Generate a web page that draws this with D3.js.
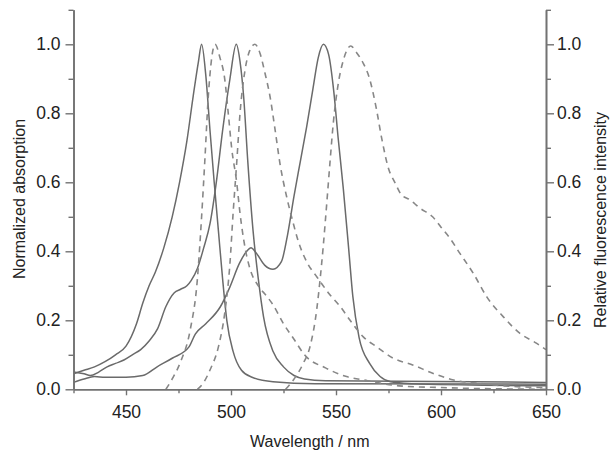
<!DOCTYPE html>
<html>
<head>
<meta charset="utf-8">
<script src="https://cdn.jsdelivr.net/npm/d3@7"></script>
<style>
  body { margin: 0; background: #fff; }
  svg text { font-family: "Liberation Sans", Arial, sans-serif; fill: #222; }
</style>
</head>
<body>
<svg id="chart" width="616" height="453"></svg>
<script>
// absorption spectra (solid), [wavelength nm, normalized value]
const absBlue = [[425,0.045],[430,0.055],[435,0.065],[440,0.08],[445,0.1],[450,0.125],[455,0.19],[458,0.25],[461,0.3],[464,0.34],[468,0.41],[472,0.5],[475.5,0.6],[479,0.72],[482,0.85],[484.5,0.95],[486,1.0],[488,0.91],[490,0.75],[492,0.6],[494,0.46],[496,0.32],[498,0.2],[501,0.11],[505,0.055],[510,0.035],[520,0.022],[540,0.016],[650,0.015]]
const absGreen = [[425,0.05],[430,0.045],[433,0.04],[437,0.05],[441,0.065],[445,0.075],[449,0.085],[453,0.1],[457,0.115],[461,0.14],[465,0.175],[469,0.24],[473,0.28],[476,0.29],[479,0.3],[481,0.315],[484,0.35],[487,0.41],[490,0.48],[493,0.6],[496,0.75],[499.5,0.9],[502.5,1.0],[504.3,0.95],[506,0.85],[508,0.66],[510.5,0.46],[513,0.32],[515.5,0.21],[520,0.11],[525,0.065],[530,0.04],[535,0.03],[545,0.025],[650,0.02]]
const absRed = [[425,0.02],[430,0.03],[435,0.037],[440,0.035],[450,0.035],[458,0.04],[465,0.066],[472,0.09],[480,0.123],[483,0.16],[488,0.19],[495,0.24],[499.5,0.297],[504,0.365],[507.5,0.4],[509.5,0.41],[512,0.395],[516,0.36],[520,0.348],[524,0.37],[527,0.45],[530,0.56],[533,0.66],[536,0.76],[539,0.87],[541.5,0.96],[544,1.0],[546.5,0.97],[549,0.86],[551,0.73],[553.5,0.58],[556,0.41],[558,0.27],[561,0.15],[566,0.075],[571,0.037],[576,0.022],[590,0.015],[650,0.01]]

// fluorescence spectra (dashed)
const emBlue = [[469,0.0],[472,0.03],[476,0.08],[480.5,0.17],[484,0.32],[486,0.5],[487.6,0.67],[489.2,0.85],[490.8,0.96],[492.4,1.0],[494.8,0.96],[497,0.9],[498.7,0.8],[500.3,0.7],[502.7,0.6],[504.3,0.51],[506.7,0.41],[509,0.35],[513,0.3],[517,0.27],[520,0.245],[525,0.19],[530,0.145],[535,0.1],[545,0.062],[555,0.037],[565,0.025],[580,0.01],[600,0.005],[650,0.0]]
const emGreen = [[484,0.0],[487,0.02],[490,0.056],[494,0.123],[497,0.22],[499.5,0.365],[501,0.51],[502.7,0.655],[504.3,0.8],[506.7,0.926],[509,0.983],[511.4,1.0],[513.8,0.974],[516.2,0.916],[518.6,0.848],[521,0.752],[523.3,0.655],[526.5,0.558],[529.7,0.48],[532,0.43],[536,0.37],[541,0.325],[547,0.275],[552,0.24],[556.7,0.2],[563,0.152],[569.4,0.123],[577.3,0.09],[586.8,0.07],[596.3,0.046],[606,0.027],[618.6,0.017],[630,0.01],[650,0.005]]
const emRed = [[526,0.0],[529.7,0.027],[534.4,0.075],[537.6,0.123],[540.8,0.23],[542.4,0.317],[543.9,0.413],[545.6,0.539],[547.1,0.655],[548.7,0.771],[551.1,0.887],[553.5,0.954],[557,0.995],[559.9,0.975],[563,0.945],[566,0.9],[569,0.82],[572,0.72],[575,0.64],[578,0.6],[581,0.565],[585,0.55],[590,0.525],[596,0.5],[600,0.47],[604,0.44],[609,0.394],[615.4,0.336],[621.8,0.268],[629.7,0.21],[637.6,0.162],[645.6,0.133],[650,0.115]]

const xMajor = [450, 500, 550, 600, 650]
const xMinor = [425, 475, 525, 575, 625]
const yMajor = [0, 0.2, 0.4, 0.6, 0.8, 1.0]
const yMinor = [0.1, 0.3, 0.5, 0.7, 0.9, 1.1]

const svg = d3.select("#chart")
const plotLeft = 73.5, plotRight = 546, plotTop = 9.8, plotBottom = 389.3
const axisColor = "#727272"
const tickFont = 17.5

const x = d3.scaleLinear().domain([425, 650]).range([plotLeft, plotRight])
const y = d3.scaleLinear().domain([0, 1.1]).range([plotBottom, plotTop])

svg.append("clipPath").attr("id", "plot-clip")
    .append("rect").attr("x", plotLeft).attr("y", 0)
    .attr("width", plotRight - plotLeft).attr("height", plotBottom + 1)

const line = d3.line().x(d => x(d[0])).y(d => y(d[1])).curve(d3.curveMonotoneX)

const plot = svg.append("g").attr("clip-path", "url(#plot-clip)")
for (const s of [absBlue, absGreen, absRed]) {
    plot.append("path").attr("d", line(s))
        .attr("fill", "none").attr("stroke", "#6a6a6a").attr("stroke-width", 1.5)
}
for (const s of [emBlue, emGreen, emRed]) {
    plot.append("path").attr("d", line(s))
        .attr("fill", "none").attr("stroke", "#878787").attr("stroke-width", 1.6)
        .attr("stroke-dasharray", "6,5")
}

function styleAxis(g) {
    g.select(".domain").attr("stroke", axisColor).attr("stroke-width", 1.6)
    g.selectAll(".tick line").attr("stroke", axisColor).attr("stroke-width", 1.4)
    g.selectAll(".tick text").attr("font-size", tickFont).attr("fill", "#222")
}

// bottom axis
svg.append("g").attr("transform", `translate(0,${plotBottom})`)
    .call(d3.axisBottom(x).tickValues(xMinor).tickFormat("").tickSize(4).tickSizeOuter(0))
    .call(styleAxis)
svg.append("g").attr("transform", `translate(0,${plotBottom})`)
    .call(d3.axisBottom(x).tickValues(xMajor).tickSize(6).tickPadding(10).tickSizeOuter(0))
    .call(styleAxis)

// left axis
svg.append("g").attr("transform", `translate(${plotLeft},0)`)
    .call(d3.axisLeft(y).tickValues(yMinor).tickFormat("").tickSize(5).tickSizeOuter(0))
    .call(styleAxis)
svg.append("g").attr("transform", `translate(${plotLeft},0)`)
    .call(d3.axisLeft(y).tickValues(yMajor).tickFormat(d3.format(".1f")).tickSize(8).tickPadding(5).tickSizeOuter(0))
    .call(styleAxis)

// right axis
svg.append("g").attr("transform", `translate(${plotRight},0)`)
    .call(d3.axisRight(y).tickValues(yMinor).tickFormat("").tickSize(5).tickSizeOuter(0))
    .call(styleAxis)
svg.append("g").attr("transform", `translate(${plotRight},0)`)
    .call(d3.axisRight(y).tickValues(yMajor).tickFormat(d3.format(".1f")).tickSize(8).tickPadding(3).tickSizeOuter(0))
    .call(styleAxis)

// titles
svg.append("text").attr("x", (plotLeft + plotRight) / 2).attr("y", 447)
    .attr("text-anchor", "middle").attr("font-size", 16).text("Wavelength / nm")
svg.append("text").attr("transform", "translate(25,199) rotate(-90)")
    .attr("text-anchor", "middle").attr("font-size", 16).text("Normalized absorption")
svg.append("text").attr("transform", "translate(606,220) rotate(-90)")
    .attr("text-anchor", "middle").attr("font-size", 16).text("Relative fluorescence intensity")
</script>
</body>
</html>
